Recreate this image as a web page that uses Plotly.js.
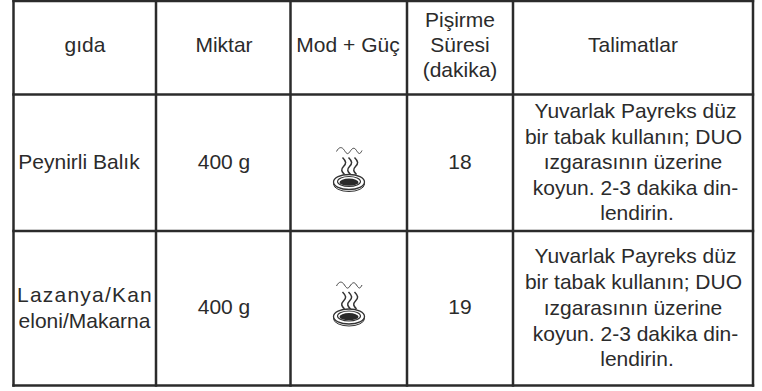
<!DOCTYPE html>
<html><head><meta charset="utf-8">
<script src="https://cdn.plot.ly/plotly-3.0.1.min.js"></script>
<style>html,body{margin:0;padding:0;background:#fff}</style></head>
<body><div id="c" style="width:762px;height:391px"></div>
<script>
const columnEdges = [13.5, 156, 290.5, 407, 513, 753];
const rowEdges = [1, 94.5, 231, 385.5];
const headerTexts = ['gıda', 'Miktar', 'Mod + Güç', 'Pişirme', 'Süresi', '(dakika)', 'Talimatlar'];
const headerX = [85, 224, 348, 460, 460, 460, 633];
const headerY = [47, 47, 47, 22, 47, 72, 47];
const foodTexts = ['Peynirli Balık', 'Lazanya/Kan', 'eloni/Makarna'];
const foodX = [79, 85, 84.5];
const foodY = [163.5, 297, 323];
const amountTexts = ['400 g', '400 g'];
const amountX = [224, 224];
const amountY = [163.5, 309];
const timeTexts = ['18', '19'];
const timeX = [460, 460];
const timeY = [163.5, 309];
const instructionLines = ['Yuvarlak Payreks düz', 'bir tabak kullanın; DUO', 'ızgarasının üzerine', 'koyun. 2-3 dakika din-', 'lendirin.'];
const instructionXOffset = [635.5, 633.5, 633, 635.5, 637];
const instructionYTop = [113, 139, 164, 190, 215];
const instructionYBottom = [258, 284, 310, 336, 361];
const iconX = 349;
const iconY = [182.5, 317];
const textColor = '#2b2b2b';
const lineColor = '#2b2b2b';

const traces = [];
function textTrace(x, y, text){
  traces.push({type:'scatter', mode:'text', x, y, text, textposition:'middle center',
    textfont:{family:'"Liberation Sans", Arial, sans-serif', size:21, color:textColor},
    hoverinfo:'skip', showlegend:false, cliponaxis:false});
}
function lineTrace(x, y, w){
  traces.push({type:'scatter', mode:'lines', x, y, line:{color:lineColor, width:w},
    hoverinfo:'skip', showlegend:false});
}
columnEdges.forEach(x => lineTrace([x, x], [rowEdges[0]-1.2, rowEdges[3]+1.2], 2.5));
rowEdges.forEach(y => lineTrace([columnEdges[0]-1.2, columnEdges[5]+1.2], [y, y], 2.5));
textTrace(headerX, headerY, headerTexts);
textTrace(foodX, foodY, foodTexts);
textTrace(amountX, amountY, amountTexts);
textTrace(timeX, timeY, timeTexts);
textTrace(instructionXOffset, instructionYTop, instructionLines);
textTrace(instructionXOffset, instructionYBottom, instructionLines);

const shapes = [];
iconY.forEach(cy => {
  const P = (dx, dy) => (iconX + dx) + ' ' + (cy + dy);
  const stroke = (w, c) => ({color: c || '#333', width: w});
  const add = (path, w) => shapes.push({type:'path', path, line:stroke(w), fillcolor:'rgba(0,0,0,0)', xref:'x', yref:'y'});
  const ell = (rx, ry, dy, line, fill) => shapes.push({type:'circle', xref:'x', yref:'y', x0:iconX-rx, x1:iconX+rx, y0:cy+dy-ry, y1:cy+dy+ry, line, fillcolor:fill});
  [-5.5, 0.5, 6.5].forEach(dx => {
    add(`M ${P(dx-1,-25)} C ${P(dx+3,-21)} ${P(dx+3,-19)} ${P(dx,-16)} S ${P(dx-2,-11)} ${P(dx+1,-8)}`, 1.5);
  });
  add(`M ${P(-12.5,-31)} C ${P(-10,-36)} ${P(-7,-36)} ${P(-4.5,-32)} S ${P(-1,-28)} ${P(1,-31)} S ${P(5,-36)} ${P(7.5,-32)} S ${P(11,-28)} ${P(13,-32)}`, 0.9);
  ell(15.5, 7.5, 1.5, stroke(1), '#fff');
  ell(15.5, 7.5, -0.5, stroke(1.3), '#fff');
  ell(11.5, 5, -1, stroke(1.1), '#fff');
  ell(9.5, 3.6, -0.3, {width:0}, '#2a2a2a');
});

Plotly.newPlot('c', traces, {
  width:762, height:391, margin:{l:0,r:0,t:0,b:0},
  paper_bgcolor:'#fff', plot_bgcolor:'#fff', showlegend:false,
  xaxis:{range:[0,762], visible:false, fixedrange:true},
  yaxis:{range:[391,0], visible:false, fixedrange:true},
  shapes
}, {displayModeBar:false, staticPlot:true}).then(() => {
  document.querySelectorAll('#c text').forEach(t => {
    if (t.textContent === 'Lazanya/Kan') t.style.letterSpacing = '1.2px';
  });
});
</script></body></html>
